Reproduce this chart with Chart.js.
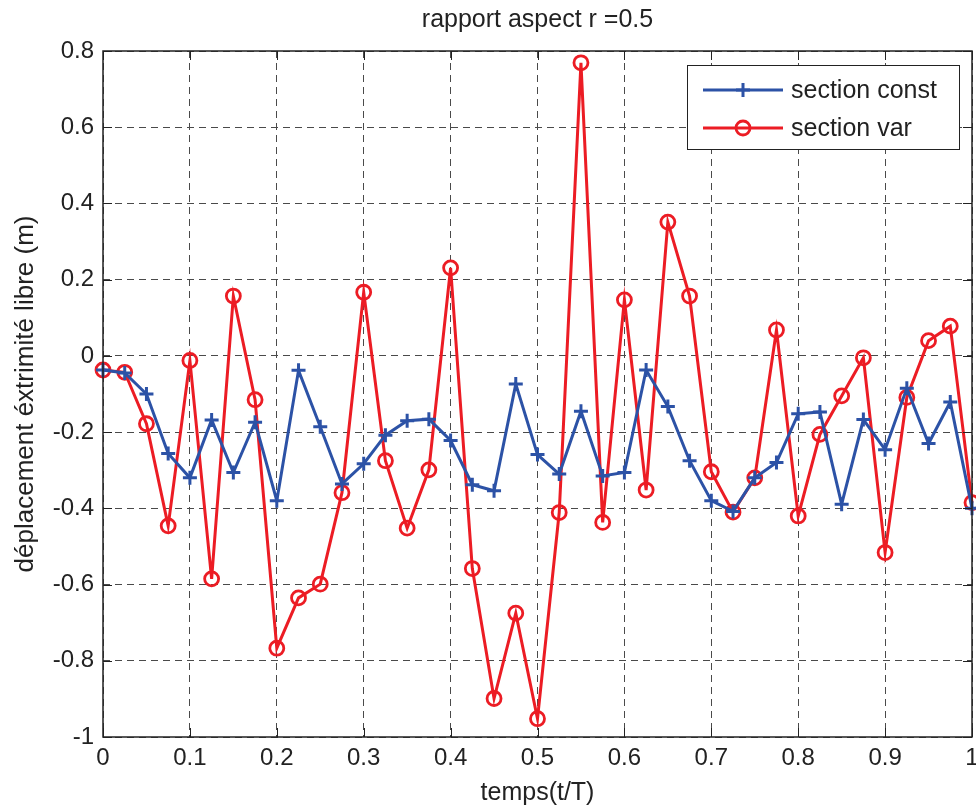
<!DOCTYPE html>
<html>
<head>
<meta charset="utf-8">
<script src="https://cdn.jsdelivr.net/npm/chart.js@4"></script>
<style>
  html, body { margin: 0; padding: 0; background: #fff; }
  #wrap { width: 976px; height: 809px; }
</style>
</head>
<body>
<div id="wrap"><canvas id="deplChart" width="976" height="809"></canvas></div>
<script>
const temps = [0, 0.025, 0.05, 0.075, 0.1, 0.125, 0.15, 0.175, 0.2, 0.225,
  0.25, 0.275, 0.3, 0.325, 0.35, 0.375, 0.4, 0.425, 0.45, 0.475,
  0.5, 0.525, 0.55, 0.575, 0.6, 0.625, 0.65, 0.675, 0.7, 0.725,
  0.75, 0.775, 0.8, 0.825, 0.85, 0.875, 0.9, 0.925, 0.95, 0.975, 1];

const sectionConst = [-0.037, -0.045, -0.10, -0.256, -0.32, -0.168, -0.306, -0.174, -0.38, -0.038,
  -0.186, -0.336, -0.283, -0.208, -0.17, -0.166, -0.222, -0.338, -0.354, -0.074,
  -0.259, -0.31, -0.145, -0.315, -0.306, -0.037, -0.133, -0.275, -0.38, -0.408,
  -0.32, -0.28, -0.152, -0.147, -0.389, -0.167, -0.246, -0.085, -0.23, -0.121, -0.40];

const sectionVar = [-0.037, -0.043, -0.178, -0.446, -0.012, -0.585, 0.157, -0.115, -0.767, -0.635,
  -0.599, -0.359, 0.167, -0.275, -0.452, -0.299, 0.231, -0.558, -0.899, -0.675,
  -0.952, -0.411, 0.769, -0.437, 0.147, -0.352, 0.351, 0.157, -0.304, -0.41,
  -0.32, 0.068, -0.42, -0.206, -0.105, -0.005, -0.516, -0.109, 0.04, 0.078, -0.385];

const seriesNames = ["section const", "section var"];
const xTicks = [0, 0.1, 0.2, 0.3, 0.4, 0.5, 0.6, 0.7, 0.8, 0.9, 1];
const yTicks = [-1, -0.8, -0.6, -0.4, -0.2, 0, 0.2, 0.4, 0.6, 0.8];

const FONT = "'Liberation Sans', Arial, sans-serif";
const BLUE = "#2c52a6";
const RED = "#ec1c24";
const RIGHT_GAP = 4;

Chart.defaults.font.family = FONT;
Chart.defaults.color = "#222";

// cadre, petits traits de graduation interieurs et legende facon matlab
const matlabBox = {
  id: "matlabBox",
  afterLayout(chart) {
    // le label "1" peut deborder a droite comme dans matlab
    const a = chart.chartArea;
    a.right = chart.width - RIGHT_GAP;
    a.width = a.right - a.left;
    const sx = chart.scales.x;
    sx.right = a.right;
    sx.width = sx.right - sx.left;
    sx.configure();
    // titre centre sur les axes
    const tb = chart.titleBlock;
    if (tb) { tb.right = a.right; tb.width = tb.right - tb.left; }
  },
  afterDatasetsDraw(chart) {
    const { ctx, chartArea: a, scales } = chart;
    ctx.save();
    ctx.strokeStyle = "#222";
    ctx.lineWidth = 1;
    ctx.setLineDash([]);
    ctx.beginPath();
    xTicks.forEach(v => {
      const px = Math.round(scales.x.getPixelForValue(v)) + 0.5;
      ctx.moveTo(px, a.bottom); ctx.lineTo(px, a.bottom - 9);
      ctx.moveTo(px, a.top); ctx.lineTo(px, a.top + 9);
    });
    yTicks.forEach(v => {
      const py = Math.round(scales.y.getPixelForValue(v)) + 0.5;
      ctx.moveTo(a.left, py); ctx.lineTo(a.left + 9, py);
      ctx.moveTo(a.right, py); ctx.lineTo(a.right - 9, py);
    });
    ctx.stroke();
    ctx.lineWidth = 1.5;
    ctx.strokeRect(a.left, a.top, a.right - a.left, a.bottom - a.top);

    // legende
    const bw = 272, bh = 84;
    const bx = a.right - 13 - bw, by = a.top + 14;
    ctx.fillStyle = "#fff";
    ctx.fillRect(bx, by, bw, bh);
    ctx.lineWidth = 1;
    ctx.strokeStyle = "#222";
    ctx.strokeRect(bx + 0.5, by + 0.5, bw, bh);
    chart.data.datasets.forEach((ds, i) => {
      const y = by + 25 + i * 38;
      ctx.strokeStyle = ds.borderColor;
      ctx.lineWidth = 3;
      ctx.beginPath();
      ctx.moveTo(bx + 16, y); ctx.lineTo(bx + 96, y);
      ctx.stroke();
      ctx.fillStyle = "rgba(0,0,0,0)";
      ctx.lineWidth = ds.pointBorderWidth;
      Chart.helpers.drawPoint(ctx, {
        pointStyle: ds.pointStyle, radius: ds.pointRadius, borderWidth: ds.pointBorderWidth
      }, bx + 56, y);
      ctx.fillStyle = "#222";
      ctx.font = "25px " + FONT;
      ctx.textBaseline = "middle";
      ctx.fillText(ds.label, bx + 104, y + 1);
    });
    ctx.restore();
  }
};

const fmtTick = v => String(Math.round(v * 10) / 10);

new Chart(document.getElementById("deplChart"), {
  type: "line",
  data: {
    datasets: [
      {
        label: seriesNames[0],
        data: temps.map((t, i) => ({ x: t, y: sectionConst[i] })),
        borderColor: BLUE,
        backgroundColor: BLUE,
        borderWidth: 3,
        pointStyle: "cross",
        pointRadius: 7,
        pointBorderWidth: 3,
        pointBorderColor: BLUE,
        tension: 0,
        clip: false
      },
      {
        label: seriesNames[1],
        data: temps.map((t, i) => ({ x: t, y: sectionVar[i] })),
        borderColor: RED,
        backgroundColor: "rgba(0,0,0,0)",
        borderWidth: 3,
        pointStyle: "circle",
        pointRadius: 7,
        pointBorderWidth: 2.8,
        pointBorderColor: RED,
        pointBackgroundColor: "rgba(0,0,0,0)",
        tension: 0,
        clip: false
      }
    ]
  },
  options: {
    responsive: false,
    animation: false,
    layout: { padding: { left: 6, right: RIGHT_GAP, top: 0, bottom: 0 } },
    plugins: {
      legend: { display: false },
      tooltip: { enabled: false },
      title: {
        display: true,
        fullSize: false,
        text: "rapport aspect r =0.5",
        color: "#222",
        font: { size: 25, weight: "normal", family: FONT },
        padding: { top: 5, bottom: 16 }
      }
    },
    scales: {
      x: {
        type: "linear",
        min: 0,
        max: 1,
        afterFit: s => { s.height = 72; },
        afterBuildTicks: s => { s.ticks = xTicks.map(v => ({ value: v })); },
        ticks: { font: { size: 24 }, color: "#222", padding: 7, maxRotation: 0, callback: fmtTick },
        grid: { color: "#4a4a4a", drawTicks: false, lineWidth: 1 },
        border: { display: false, dash: [7, 5] },
        title: {
          display: true,
          text: "temps(t/T)",
          color: "#222",
          font: { size: 25 },
          padding: { top: 0, bottom: 1 }
        }
      },
      y: {
        type: "linear",
        min: -1,
        max: 0.8,
        afterFit: s => { s.width = 97; },
        afterBuildTicks: s => { s.ticks = yTicks.map(v => ({ value: v })); },
        ticks: { font: { size: 24 }, color: "#222", padding: 9, callback: fmtTick },
        grid: { color: "#4a4a4a", drawTicks: false, lineWidth: 1 },
        border: { display: false, dash: [7, 5] },
        title: {
          display: true,
          text: "déplacement éxtrimité libre (m)",
          color: "#222",
          font: { size: 26 },
          padding: { top: 4, bottom: 0 }
        }
      }
    }
  },
  plugins: [matlabBox]
});
</script>
</body>
</html>
